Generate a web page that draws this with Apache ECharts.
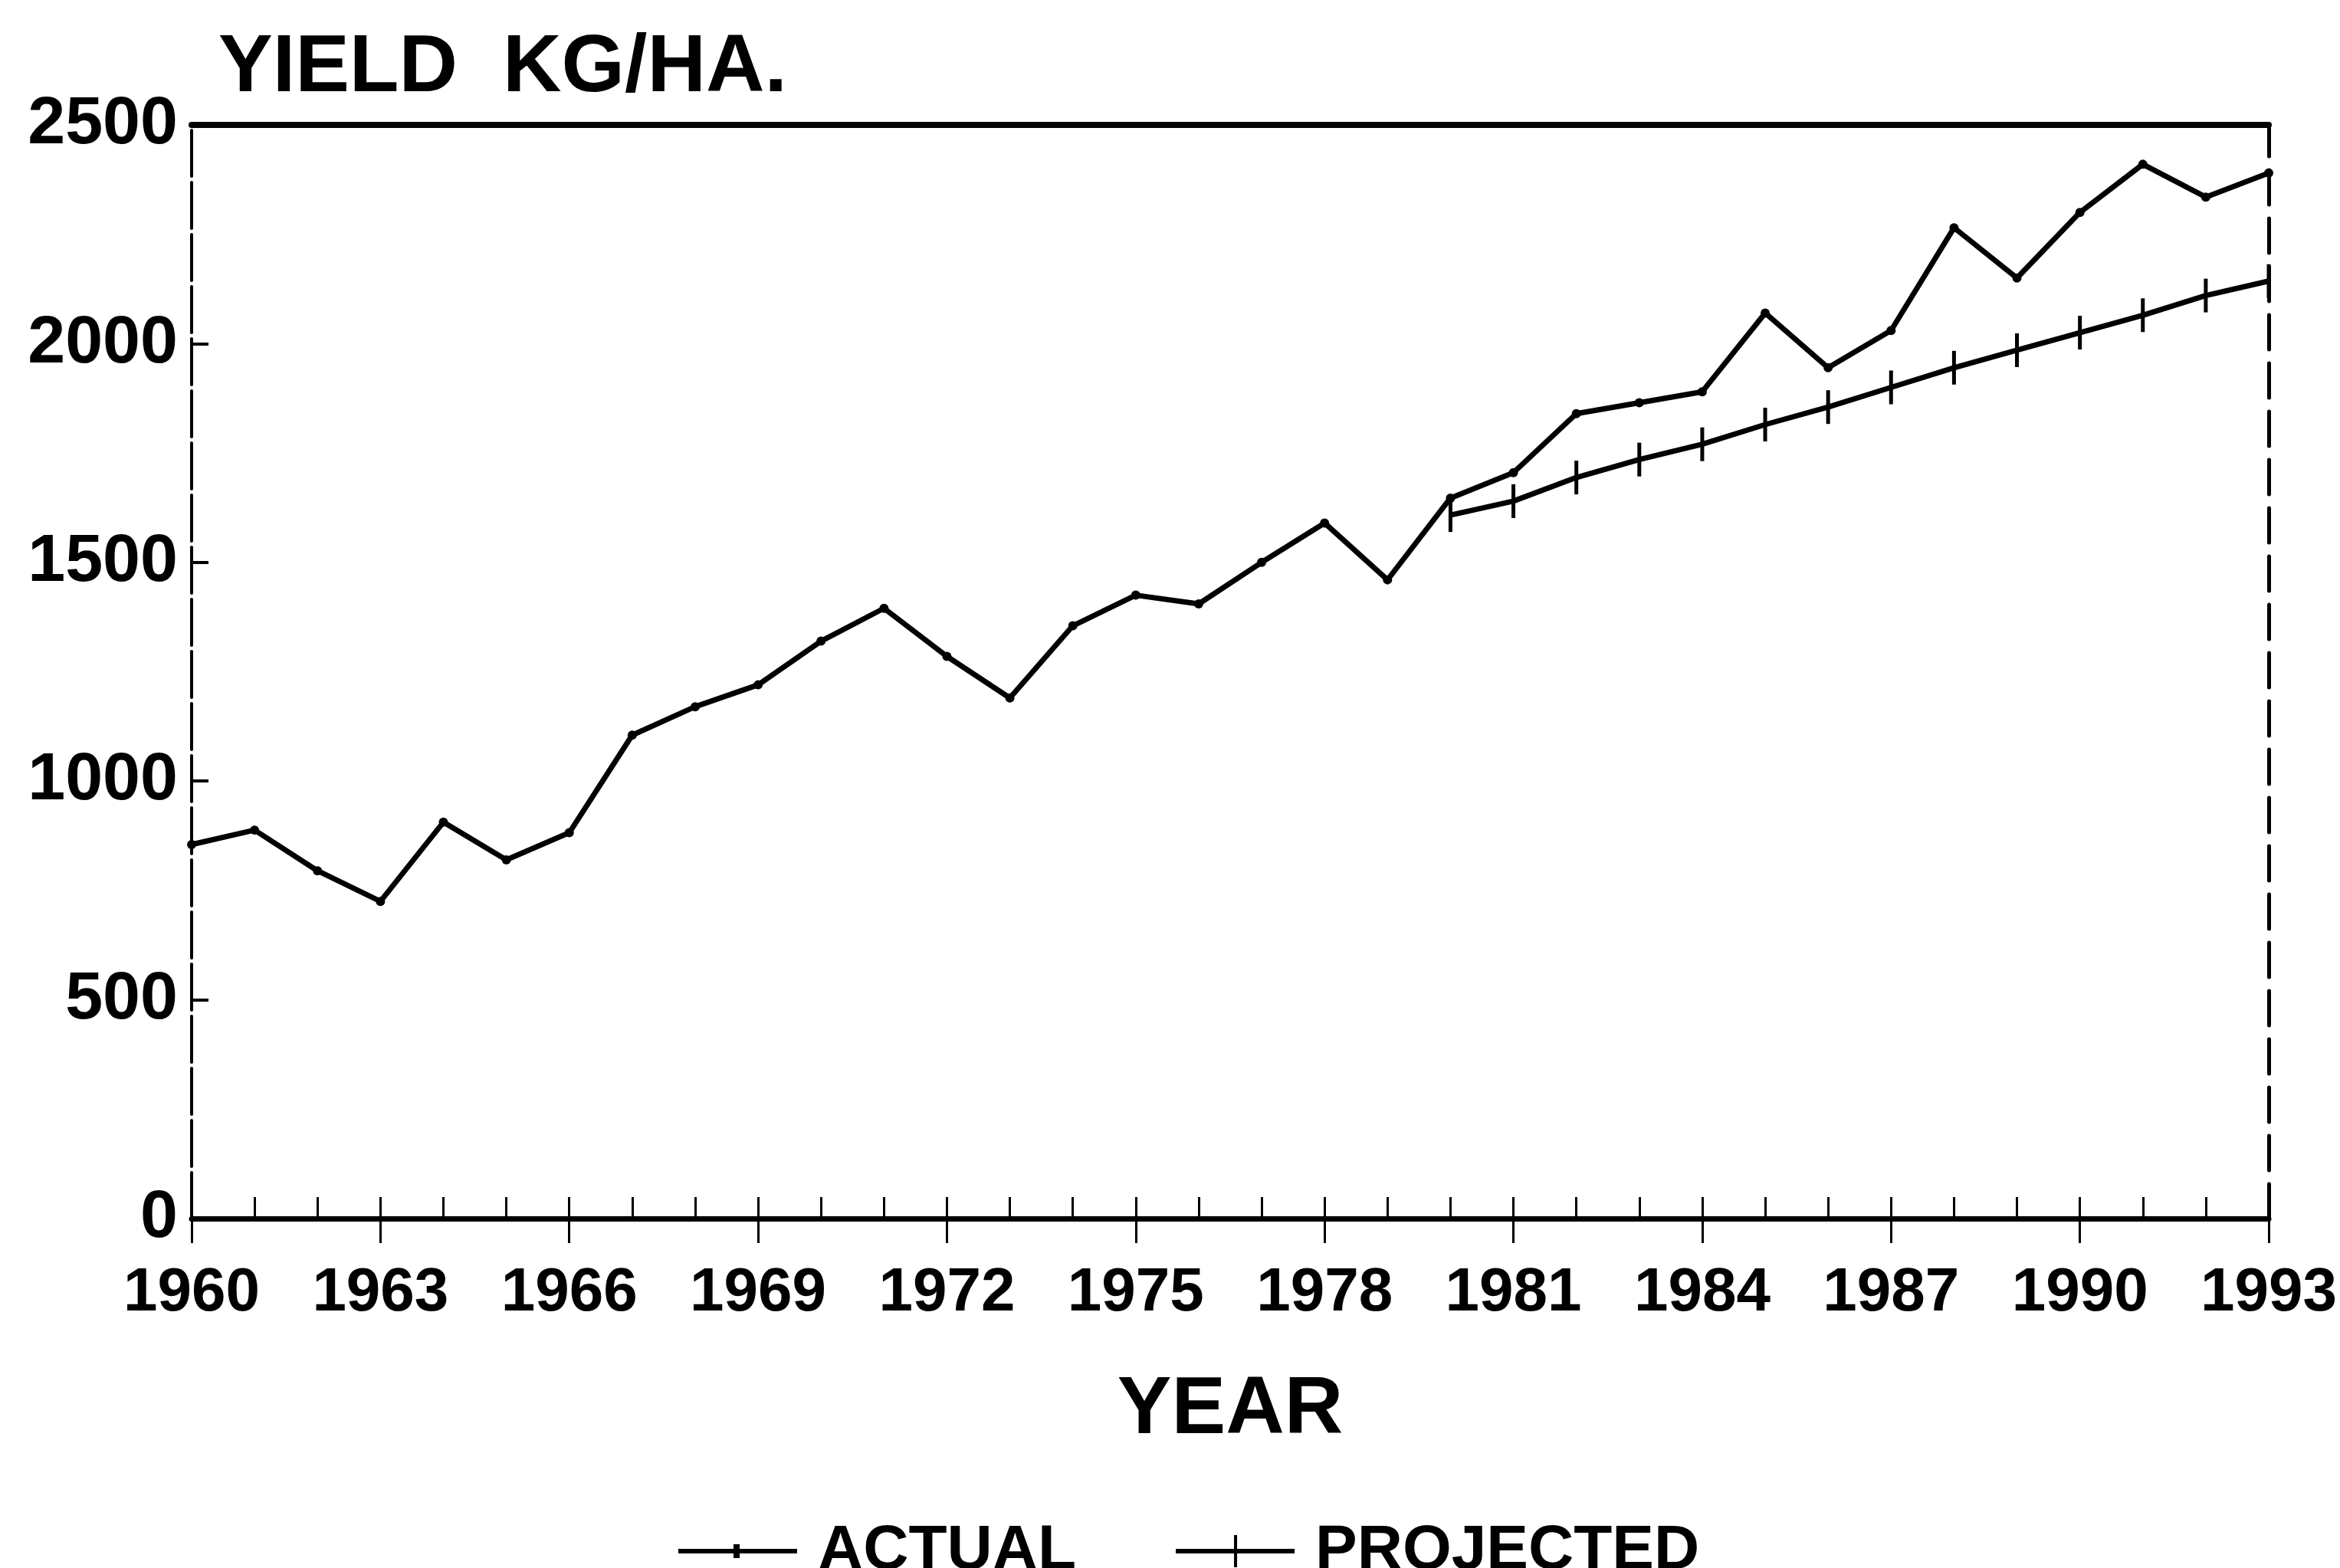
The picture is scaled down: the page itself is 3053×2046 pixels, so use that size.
<!DOCTYPE html>
<html>
<head>
<meta charset="utf-8">
<script src="https://cdn.jsdelivr.net/npm/echarts@6/dist/echarts.min.js"></script>
<style>
  html, body { margin: 0; padding: 0; background: #fff; }
  #chart { width: 3053px; height: 2046px; }
</style>
</head>
<body>
<div id="chart"></div>
<script>
// years on the x axis
var years = [];
for (var y = 1960; y <= 1993; y++) years.push(String(y));

// yield kg/ha
var actualValues = [855, 888, 795, 725, 906, 820, 882, 1105, 1170, 1220,
    1320, 1395, 1285, 1190, 1355, 1425, 1405, 1500, 1590, 1460,
    1647, 1705, 1840, 1865, 1890, 2070, 1945, 2030, 2265, 2150,
    2300, 2410, 2335, 2390];

// projection starts in 1980
var projectedValues = [null, null, null, null, null, null, null, null, null, null,
    null, null, null, null, null, null, null, null, null, null,
    1608, 1640, 1694, 1735, 1770, 1815, 1855, 1900, 1945, 1985,
    2025, 2065, 2110, 2143];

var yTicks = [0, 500, 1000, 1500, 2000, 2500];

var font = "'Liberation Sans', Arial, sans-serif";

// legend icons: line with a small tick / line with a cross
var actualIcon = 'path://M0,6 L72,6 L72,0 L80,0 L80,6 L155,6 L155,12 L80,12 L80,18 L72,18 L72,12 L0,12 Z';
var projectedIcon = 'path://M0,18 L76,18 L76,0 L80,0 L80,18 L155,18 L155,24 L80,24 L80,42 L76,42 L76,24 L0,24 Z';

var myChart = echarts.init(document.getElementById('chart'));

var option = {
    backgroundColor: '#fff',
    animation: false,
    title: {
        text: 'YIELD  KG/HA.',
        left: 280,
        top: 32,
        textStyle: { fontFamily: font, fontWeight: 'bold', fontSize: 106, color: '#000' }
    },
    legend: {
        left: 880,
        top: 1978,
        itemWidth: 155,
        itemHeight: 42,
        itemGap: 130,
        textStyle: { fontFamily: font, fontWeight: 'bold', fontSize: 82, color: '#000', padding: [0, 0, 0, 22] },
        data: [
            { name: 'ACTUAL', icon: actualIcon },
            { name: 'PROJECTED', icon: projectedIcon }
        ]
    },
    grid: { left: 250, right: 93, top: 163, bottom: 456 },
    xAxis: [
        {
            // main axis: labels + small year ticks
            type: 'category',
            data: years,
            boundaryGap: false,
            name: 'YEAR',
            nameLocation: 'middle',
            nameGap: 198,
            nameTextStyle: { fontFamily: font, fontWeight: 'bold', fontSize: 106, color: '#000' },
            axisLine: { lineStyle: { color: '#000', width: 7 } },
            axisTick: { show: true, inside: true, length: 28, interval: 0, lineStyle: { color: '#000', width: 3 } },
            axisLabel: {
                interval: 2, margin: 58,
                fontFamily: font, fontWeight: 'bold', fontSize: 80, color: '#000'
            },
            splitLine: { show: false }
        },
        {
            // longer ticks below the axis every 3 years
            type: 'category',
            data: years,
            boundaryGap: false,
            position: 'bottom',
            axisLine: { show: false },
            axisTick: { show: true, inside: false, length: 32, interval: 2, lineStyle: { color: '#000', width: 3 } },
            axisLabel: { show: false },
            splitLine: { show: false }
        },
        {
            // top frame line
            type: 'category',
            data: years,
            boundaryGap: false,
            position: 'top',
            axisLine: { lineStyle: { color: '#000', width: 8 } },
            axisTick: { show: false },
            axisLabel: { show: false }
        }
    ],
    yAxis: [
        {
            type: 'value',
            min: yTicks[0],
            max: yTicks[yTicks.length - 1],
            interval: 500,
            axisLine: { show: true, lineStyle: { color: '#000', width: 4, type: [60, 8] } },
            axisTick: { show: true, inside: true, length: 22, lineStyle: { color: '#000', width: 4 } },
            axisLabel: {
                margin: 18,
                formatter: function (v) { return String(v); },
                fontFamily: font, fontWeight: 'bold', fontSize: 88, color: '#000'
            },
            splitLine: { show: false }
        },
        {
            // right frame, dashed
            type: 'value',
            position: 'right',
            min: 0,
            max: 2500,
            interval: 500,
            axisLine: { show: true, lineStyle: { color: '#000', width: 5, type: [45, 18] } },
            axisTick: { show: false },
            axisLabel: { show: false },
            splitLine: { show: false }
        }
    ],
    series: [
        {
            name: 'ACTUAL',
            type: 'line',
            data: actualValues,
            symbol: 'circle',
            symbolSize: 12,
            itemStyle: { color: '#000' },
            lineStyle: { color: '#000', width: 7 }
        },
        {
            name: 'PROJECTED',
            type: 'line',
            data: projectedValues,
            symbol: 'rect',
            symbolSize: [5, 44],
            itemStyle: { color: '#000' },
            lineStyle: { color: '#000', width: 7 }
        }
    ]
};
myChart.setOption(option);
</script>
</body>
</html>
